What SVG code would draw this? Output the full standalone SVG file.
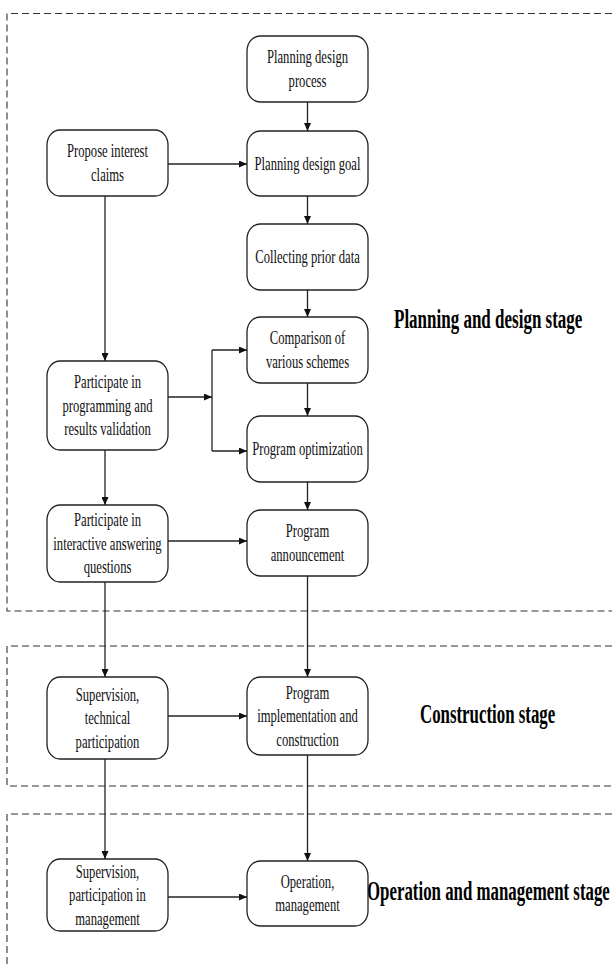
<svg xmlns="http://www.w3.org/2000/svg" width="612" height="968" viewBox="0 0 612 968">
<style>
.bg{fill:#fff}
.stagebox{fill:none;stroke:#333;stroke-width:1.1;stroke-dasharray:7 4}
.node rect{fill:#fff;stroke:#222;stroke-width:1.3}
.node text{font-family:"Liberation Serif","Times New Roman",serif;font-size:19px;fill:#111;text-anchor:middle}
.stage{font-family:"Liberation Serif","Times New Roman",serif;font-size:28px;font-weight:bold;fill:#000}
#connectors path{fill:none;stroke:#222;stroke-width:1.3}
</style>
<defs>
<marker id="ah" markerWidth="8" markerHeight="7" refX="8" refY="3.5" orient="auto" markerUnits="userSpaceOnUse">
<path d="M0,0 L8,3.5 L0,7 z" fill="#111"/>
</marker>
</defs>
<rect class="bg" x="0" y="0" width="612" height="968"/>
<g id="stages">
<path class="stagebox" d="M612,13.5 H7 V611 H612"/>
<path class="stagebox" d="M612,646 H7 V786 H612"/>
<path class="stagebox" d="M612,814 H7 V968"/>
<text class="stage" transform="matrix(0.607 0 0 1 394 328)">Planning and design stage</text>
<text class="stage" transform="matrix(0.602 0 0 1 420 723)">Construction stage</text>
<text class="stage" transform="matrix(0.602 0 0 1 367 900)">Operation and management stage</text>
</g>
<g id="connectors">
<path d="M307.5,102 V131" marker-end="url(#ah)"/>
<path d="M307.5,196 V224" marker-end="url(#ah)"/>
<path d="M307.5,290 V317" marker-end="url(#ah)"/>
<path d="M307.5,383 V416" marker-end="url(#ah)"/>
<path d="M307.5,482 V510" marker-end="url(#ah)"/>
<path d="M307.5,576 V677" marker-end="url(#ah)"/>
<path d="M307.5,755 V861" marker-end="url(#ah)"/>
<path d="M168,164 H247" marker-end="url(#ah)"/>
<path d="M105,196 V361" marker-end="url(#ah)"/>
<path d="M105,450 V505" marker-end="url(#ah)"/>
<path d="M105,582 V677" marker-end="url(#ah)"/>
<path d="M105,759 V859" marker-end="url(#ah)"/>
<path d="M168,397 H212" marker-end="url(#ah)"/>
<path d="M212,350 V451"/>
<path d="M212,350 H247" marker-end="url(#ah)"/>
<path d="M212,451 H247" marker-end="url(#ah)"/>
<path d="M168,541 H247" marker-end="url(#ah)"/>
<path d="M168,716 H247" marker-end="url(#ah)"/>
<path d="M168,897 H247" marker-end="url(#ah)"/>
</g>
<g id="n_process" class="node">
<rect x="247" y="36" width="121" height="66" rx="13" ry="15"/>
<text transform="matrix(0.665 0 0 1 307.5 0)"><tspan x="0" y="63.5">Planning design</tspan><tspan x="0" y="87.1">process</tspan></text>
</g>
<g id="n_goal" class="node">
<rect x="247" y="131" width="121" height="65" rx="13" ry="15"/>
<text transform="matrix(0.665 0 0 1 307.5 0)"><tspan x="0" y="169.8">Planning design goal</tspan></text>
</g>
<g id="n_collect" class="node">
<rect x="247" y="224" width="121" height="66" rx="13" ry="15"/>
<text transform="matrix(0.665 0 0 1 307.5 0)"><tspan x="0" y="263.3">Collecting prior data</tspan></text>
</g>
<g id="n_compare" class="node">
<rect x="247" y="317" width="121" height="66" rx="13" ry="15"/>
<text transform="matrix(0.665 0 0 1 307.5 0)"><tspan x="0" y="344.5">Comparison of</tspan><tspan x="0" y="368.1">various schemes</tspan></text>
</g>
<g id="n_optim" class="node">
<rect x="247" y="416" width="121" height="66" rx="13" ry="15"/>
<text transform="matrix(0.665 0 0 1 307.5 0)"><tspan x="0" y="455.3">Program optimization</tspan></text>
</g>
<g id="n_announce" class="node">
<rect x="247" y="510" width="121" height="66" rx="13" ry="15"/>
<text transform="matrix(0.665 0 0 1 307.5 0)"><tspan x="0" y="537.5">Program</tspan><tspan x="0" y="561.1">announcement</tspan></text>
</g>
<g id="n_implement" class="node">
<rect x="247" y="677" width="121" height="78" rx="13" ry="15"/>
<text transform="matrix(0.665 0 0 1 307.5 0)"><tspan x="0" y="698.7">Program</tspan><tspan x="0" y="722.3">implementation and</tspan><tspan x="0" y="745.9">construction</tspan></text>
</g>
<g id="n_operation" class="node">
<rect x="247" y="861" width="121" height="65" rx="13" ry="15"/>
<text transform="matrix(0.665 0 0 1 307.5 0)"><tspan x="0" y="887.8">Operation,</tspan><tspan x="0" y="911.4">management</tspan></text>
</g>
<g id="n_propose" class="node">
<rect x="47" y="130" width="121" height="66" rx="13" ry="15"/>
<text transform="matrix(0.665 0 0 1 107.5 0)"><tspan x="0" y="157.5">Propose interest</tspan><tspan x="0" y="181.1">claims</tspan></text>
</g>
<g id="n_validate" class="node">
<rect x="47" y="361" width="121" height="89" rx="13" ry="15"/>
<text transform="matrix(0.665 0 0 1 107.5 0)"><tspan x="0" y="388">Participate in</tspan><tspan x="0" y="411.6">programming and</tspan><tspan x="0" y="435.2">results validation</tspan></text>
</g>
<g id="n_interactive" class="node">
<rect x="47" y="505" width="121" height="77" rx="13" ry="15"/>
<text transform="matrix(0.665 0 0 1 107.5 0)"><tspan x="0" y="526">Participate in</tspan><tspan x="0" y="549.6">interactive answering</tspan><tspan x="0" y="573.2">questions</tspan></text>
</g>
<g id="n_supervise_tech" class="node">
<rect x="47" y="677" width="121" height="82" rx="13" ry="15"/>
<text transform="matrix(0.665 0 0 1 107.5 0)"><tspan x="0" y="700.7">Supervision,</tspan><tspan x="0" y="724.3">technical</tspan><tspan x="0" y="747.9">participation</tspan></text>
</g>
<g id="n_supervise_mgmt" class="node">
<rect x="47" y="859" width="121" height="72" rx="13" ry="15"/>
<text transform="matrix(0.665 0 0 1 107.5 0)"><tspan x="0" y="877.7">Supervision,</tspan><tspan x="0" y="901.3">participation in</tspan><tspan x="0" y="924.9">management</tspan></text>
</g>
</svg>
